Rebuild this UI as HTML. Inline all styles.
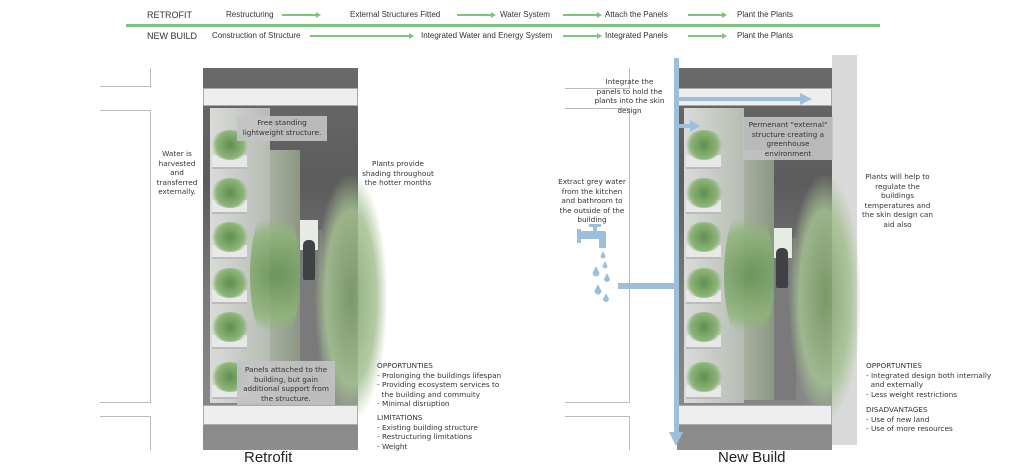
<!DOCTYPE html>
<html><head><meta charset="utf-8"><style>
body{margin:0;width:1024px;height:470px;background:#fff;position:relative;overflow:hidden;font-family:"DejaVu Sans","Liberation Sans",sans-serif;color:#333}
.a{position:absolute}
.t{position:absolute;font-size:7.3px;line-height:9.5px;color:#333;white-space:nowrap}
.c{text-align:center}
.hd{position:absolute;font-size:8px;color:#333;font-family:"Liberation Sans",sans-serif}
.ar{position:absolute;height:1.5px;background:#7cc47c}
.ar:after{content:"";position:absolute;right:-4px;top:-2.5px;border-left:5px solid #7cc47c;border-top:3px solid transparent;border-bottom:3px solid transparent}
.ln{position:absolute;background:#bbb}
.lab{position:absolute;background:rgba(195,195,195,.9);font-size:7.3px;line-height:9.5px;text-align:center;color:#333;white-space:nowrap}
.pl{position:absolute;background:#e8e8e8;border-bottom:2px solid #bbb}
.gr{position:absolute;border-radius:50%;background:radial-gradient(circle,#5f8f4e,#8fb57a 55%,rgba(160,190,140,0) 72%)}
.gv{position:absolute;border-radius:40%;background:radial-gradient(ellipse,#7a9e66,#a5c193 50%,rgba(200,215,190,0) 72%)}
</style></head><body>
<!-- header -->
<div class="hd" style="left:147px;top:10px;font-size:9px">RETROFIT</div>
<div class="hd" style="left:226px;top:10px">Restructuring</div>
<div class="ar" style="left:282px;top:14px;width:35px"></div>
<div class="hd" style="left:350px;top:10px">External Structures Fitted</div>
<div class="ar" style="left:457px;top:14px;width:35px"></div>
<div class="hd" style="left:500px;top:10px">Water System</div>
<div class="ar" style="left:563px;top:14px;width:35px"></div>
<div class="hd" style="left:605px;top:10px">Attach the Panels</div>
<div class="ar" style="left:688px;top:14px;width:35px"></div>
<div class="hd" style="left:737px;top:10px">Plant the Plants</div>
<div class="a" style="left:126px;top:24px;width:754px;height:3px;background:#7cc47c"></div>
<div class="hd" style="left:147px;top:31px;font-size:9px">NEW BUILD</div>
<div class="hd" style="left:212px;top:31px">Construction of Structure</div>
<div class="ar" style="left:310px;top:35px;width:100px"></div>
<div class="hd" style="left:421px;top:31px">Integrated Water and Energy System</div>
<div class="ar" style="left:563px;top:35px;width:35px"></div>
<div class="hd" style="left:605px;top:31px">Integrated Panels</div>
<div class="ar" style="left:688px;top:35px;width:35px"></div>
<div class="hd" style="left:737px;top:31px">Plant the Plants</div>

<!-- left outlines retrofit -->
<div class="ln" style="left:150px;top:68px;width:1px;height:18px"></div>
<div class="ln" style="left:100px;top:86px;width:51px;height:1px"></div>
<div class="ln" style="left:100px;top:110px;width:51px;height:1px"></div>
<div class="ln" style="left:150px;top:110px;width:1px;height:292px"></div>
<div class="ln" style="left:100px;top:402px;width:51px;height:1px"></div>
<div class="ln" style="left:100px;top:416px;width:51px;height:1px"></div>
<div class="ln" style="left:150px;top:416px;width:1px;height:34px"></div>
<!-- left outlines new build -->
<div class="ln" style="left:629px;top:68px;width:1px;height:20px"></div>
<div class="ln" style="left:565px;top:88px;width:65px;height:1px"></div>
<div class="ln" style="left:565px;top:108px;width:65px;height:1px"></div>
<div class="ln" style="left:629px;top:108px;width:1px;height:294px"></div>
<div class="ln" style="left:565px;top:402px;width:65px;height:1px"></div>
<div class="ln" style="left:565px;top:416px;width:65px;height:1px"></div>
<div class="ln" style="left:629px;top:416px;width:1px;height:34px"></div>

<!-- Retrofit image -->
<div class="a" style="left:203px;top:68px;width:155px;height:382px;background:linear-gradient(180deg,#6a6a6a,#5c5c5c 30%,#7a7a7a 60%,#8d8d8d)"></div>
<div class="a" style="left:292px;top:230px;width:30px;height:170px;background:#7a7a7a"></div>
<div class="a" style="left:298px;top:220px;width:20px;height:30px;background:#e6ebe6"></div>
<div class="a" style="left:210px;top:108px;width:60px;height:295px;background:linear-gradient(90deg,#d9dbd8,#b6bcb3)"></div>
<div class="a" style="left:270px;top:150px;width:30px;height:250px;background:linear-gradient(90deg,#a7b0a0,#8d9684)"></div>
<div class="pl" style="left:212px;top:155px;width:35px;height:12px"></div>
<div class="pl" style="left:212px;top:200px;width:35px;height:12px"></div>
<div class="pl" style="left:212px;top:245px;width:35px;height:12px"></div>
<div class="pl" style="left:212px;top:290px;width:35px;height:12px"></div>
<div class="pl" style="left:212px;top:335px;width:35px;height:12px"></div>
<div class="pl" style="left:212px;top:385px;width:35px;height:12px"></div>
<div class="gr" style="left:210px;top:130px;width:40px;height:30px"></div>
<div class="gr" style="left:210px;top:178px;width:40px;height:30px"></div>
<div class="gr" style="left:210px;top:222px;width:40px;height:30px"></div>
<div class="gr" style="left:210px;top:268px;width:40px;height:30px"></div>
<div class="gr" style="left:210px;top:312px;width:40px;height:30px"></div>
<div class="gr" style="left:210px;top:362px;width:40px;height:30px"></div>
<div class="gr" style="left:250px;top:200px;width:50px;height:150px;opacity:.8"></div>
<div class="gv" style="left:315px;top:175px;width:72px;height:245px;opacity:.85"></div>
<div class="a" style="left:303px;top:240px;width:12px;height:40px;background:#3e4245;border-radius:5px 5px 2px 2px"></div>
<div class="a" style="left:203px;top:88px;width:155px;height:18px;background:#eee;border:1px solid #aaa;box-sizing:border-box"></div>
<div class="a" style="left:203px;top:405px;width:155px;height:20px;background:#eee;border:1px solid #aaa;box-sizing:border-box"></div>
<div class="lab" style="left:237px;top:116px;width:90px;height:23px;padding-top:2px">Free standing<br>lightweight structure.</div>
<div class="lab" style="left:237px;top:361px;width:98px;height:40px;padding-top:4px">Panels attached to the<br>building, but gain<br>additional support from<br>the structure.</div>
<div class="t c" style="left:152px;top:149px;width:50px">Water is<br>harvested<br>and<br>transferred<br>externally.</div>
<div class="t c" style="left:358px;top:159px;width:80px">Plants provide<br>shading throughout<br>the hotter months</div>
<div class="t" style="left:377px;top:361px">OPPORTUNTIES<br>- Prolonging the buildings lifespan<br>- Providing ecosystem services to<br>&nbsp;&nbsp;the building and commuity<br>- Minimal disruption</div>
<div class="t" style="left:377px;top:413px">LIMITATIONS<br>- Existing building structure<br>- Restructuring limitations<br>- Weight</div>
<div class="a" style="left:244px;top:449px;font-size:15px;font-family:'Liberation Sans',sans-serif;color:#222">Retrofit</div>

<!-- New build image -->
<div class="a" style="left:832px;top:55px;width:25px;height:390px;background:#d9d9d9"></div>
<div class="a" style="left:677px;top:68px;width:155px;height:382px;background:linear-gradient(180deg,#6a6a6a,#5c5c5c 30%,#7a7a7a 60%,#8d8d8d)"></div>
<div class="a" style="left:766px;top:238px;width:30px;height:162px;background:#7a7a7a"></div>
<div class="a" style="left:772px;top:228px;width:20px;height:30px;background:#e6ebe6"></div>
<div class="a" style="left:684px;top:108px;width:60px;height:295px;background:linear-gradient(90deg,#d9dbd8,#b6bcb3)"></div>
<div class="a" style="left:744px;top:150px;width:30px;height:250px;background:linear-gradient(90deg,#a7b0a0,#8d9684)"></div>
<div class="pl" style="left:686px;top:155px;width:35px;height:12px"></div>
<div class="pl" style="left:686px;top:200px;width:35px;height:12px"></div>
<div class="pl" style="left:686px;top:245px;width:35px;height:12px"></div>
<div class="pl" style="left:686px;top:290px;width:35px;height:12px"></div>
<div class="pl" style="left:686px;top:335px;width:35px;height:12px"></div>
<div class="pl" style="left:686px;top:385px;width:35px;height:12px"></div>
<div class="gr" style="left:684px;top:130px;width:40px;height:30px"></div>
<div class="gr" style="left:684px;top:178px;width:40px;height:30px"></div>
<div class="gr" style="left:684px;top:222px;width:40px;height:30px"></div>
<div class="gr" style="left:684px;top:268px;width:40px;height:30px"></div>
<div class="gr" style="left:684px;top:312px;width:40px;height:30px"></div>
<div class="gr" style="left:684px;top:362px;width:40px;height:30px"></div>
<div class="gr" style="left:724px;top:200px;width:50px;height:150px;opacity:.8"></div>
<div class="gv" style="left:789px;top:175px;width:72px;height:245px;opacity:.85"></div>
<div class="a" style="left:776px;top:248px;width:12px;height:40px;background:#3e4245;border-radius:5px 5px 2px 2px"></div>
<div class="a" style="left:677px;top:88px;width:155px;height:18px;background:#eee;border:1px solid #aaa;box-sizing:border-box"></div>
<div class="a" style="left:677px;top:405px;width:155px;height:20px;background:#eee;border:1px solid #aaa;box-sizing:border-box"></div>
<div class="lab" style="left:743px;top:117px;width:90px;height:40px;padding-top:3px">Permenant "external"<br>structure creating a<br>greenhouse<br>environment</div>
<!-- blue arrows -->
<div class="a" style="left:674px;top:58px;width:5px;height:375px;background:#9cc0dc"></div>
<div class="a" style="left:669px;top:432px;border-top:14px solid #9cc0dc;border-left:7px solid transparent;border-right:7px solid transparent"></div>
<div class="a" style="left:679px;top:97px;width:122px;height:4px;background:#9cc0dc"></div>
<div class="a" style="left:800px;top:93px;border-left:12px solid #9cc0dc;border-top:6px solid transparent;border-bottom:6px solid transparent"></div>
<div class="a" style="left:679px;top:124px;width:12px;height:4px;background:#9cc0dc"></div>
<div class="a" style="left:690px;top:120px;border-left:10px solid #9cc0dc;border-top:6px solid transparent;border-bottom:6px solid transparent"></div>
<div class="a" style="left:618px;top:283px;width:57px;height:6px;background:#9cc0dc"></div>
<!-- tap -->
<svg class="a" style="left:577px;top:222px" width="40" height="85" viewBox="0 0 40 85">
<g fill="#9cc0dc"><rect x="12" y="2" width="12" height="3"/><rect x="16" y="4" width="4" height="6"/><rect x="3" y="9" width="26" height="8" rx="2"/><rect x="0" y="7" width="4" height="14"/><rect x="22" y="12" width="7" height="14"/>
<path d="M26 29 l2.5 5 a2.5 2.5 0 1 1 -5 0z"/><path d="M28 39 l2.5 5 a2.5 2.5 0 1 1 -5 0z"/><path d="M19 44 l3.5 7 a3.5 3.5 0 1 1 -7 0z"/><path d="M30 51 l3 6 a3 3 0 1 1 -6 0z"/><path d="M21 62 l3.5 7 a3.5 3.5 0 1 1 -7 0z"/><path d="M29 71 l3 6 a3 3 0 1 1 -6 0z"/></g></svg>
<div class="t c" style="left:592px;top:77px;width:75px">Integrate the<br>panels to hold the<br>plants into the skin<br>design</div>
<div class="t c" style="left:553px;top:177px;width:78px">Extract grey water<br>from the kitchen<br>and bathroom to<br>the outside of the<br>building</div>
<div class="t c" style="left:860px;top:172px;width:75px">Plants will help to<br>regulate the<br>buildings<br>temperatures and<br>the skin design can<br>aid also</div>
<div class="t" style="left:866px;top:361px">OPPORTUNTIES<br>- Integrated design both internally<br>&nbsp;&nbsp;and externally<br>- Less weight restrictions</div>
<div class="t" style="left:866px;top:405px">DISADVANTAGES<br>- Use of new land<br>- Use of more resources</div>
<div class="a" style="left:718px;top:449px;font-size:15px;font-family:'Liberation Sans',sans-serif;color:#222">New Build</div>
</body></html>
